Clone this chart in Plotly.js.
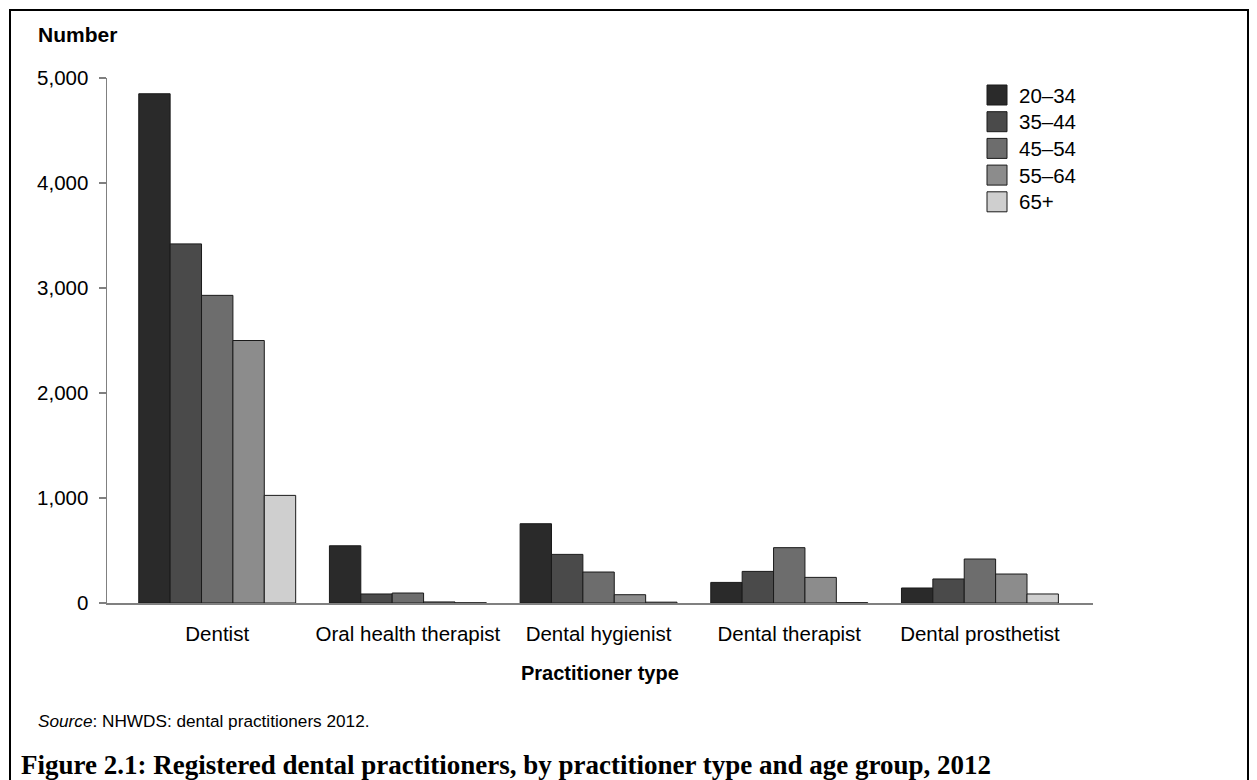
<!DOCTYPE html>
<html>
<head>
<meta charset="utf-8">
<script src="https://cdn.plot.ly/plotly-3.0.1.min.js"></script>
<style>
  html, body { margin: 0; padding: 0; background: #fff; }
  #wrap { position: relative; width: 1257px; height: 780px; overflow: hidden; }
  #chart { position: absolute; left: 0; top: 0; width: 1257px; height: 780px; }
  #frame { position: absolute; left: 9px; top: 9px; width: 1236px; height: 800px; border: 2px solid #000; pointer-events: none; }
</style>
</head>
<body>
<div id="wrap">
  <div id="chart"></div>
  <div id="frame"></div>
</div>
<script>
// ---- data ----
const categories = ["Dentist", "Oral health therapist", "Dental hygienist", "Dental therapist", "Dental prosthetist"];
const ageGroups = ["20–34", "35–44", "45–54", "55–64", "65+"];
const age20_34 = [4850, 545, 755, 196, 143];
const age35_44 = [3420, 86, 463, 301, 229];
const age45_54 = [2930, 95, 295, 527, 419];
const age55_64 = [2500, 10, 79, 244, 276];
const age65plus = [1025, 2, 8, 3, 86];
const seriesValues = [age20_34, age35_44, age45_54, age55_64, age65plus];
const seriesColors = ["#2a2a2a", "#4a4a4a", "#6d6d6d", "#8c8c8c", "#cfcfcf"];
const yTickValues = [0, 1000, 2000, 3000, 4000, 5000];

// ---- geometry ----
const W = 1257, H = 780;
const mL = 107, mR = 164, mT = 78, mB = 177;
const plotW = W - mL - mR, plotH = H - mT - mB;
const px2x = p => (p - mL) / plotW;
const px2y = p => (H - mB - p) / plotH;

const font = "Liberation Sans, Arial, sans-serif";

const traces = ageGroups.map((g, i) => ({
  type: "bar",
  name: g,
  x: categories,
  y: seriesValues[i],
  marker: { color: seriesColors[i], line: { color: "#1a1a1a", width: 1 } },
  showlegend: false,
  hoverinfo: "x+y+name"
}));

// custom legend (large square swatches)
const shapes = [];
const annotations = [];
const legLeft = 987, legTop = 85, sw = 20, rowH = 26.7;
ageGroups.forEach((g, i) => {
  const top = legTop + i * rowH;
  shapes.push({
    type: "rect", xref: "paper", yref: "paper",
    x0: px2x(legLeft), x1: px2x(legLeft + sw),
    y0: px2y(top + sw), y1: px2y(top),
    fillcolor: seriesColors[i], line: { color: "#1a1a1a", width: 1 }
  });
  annotations.push({
    xref: "paper", yref: "paper", x: px2x(legLeft + sw + 10), y: px2y(top + sw / 2),
    xanchor: "left", yanchor: "middle", showarrow: false,
    text: g, font: { family: font, size: 20.5, color: "#000" }
  });
});

annotations.push({
  xref: "paper", yref: "paper", x: px2x(36), y: px2y(35),
  xanchor: "left", yanchor: "middle", showarrow: false,
  text: "<b>Number</b>", font: { family: font, size: 21, color: "#000" }
});
annotations.push({
  xref: "paper", yref: "paper", x: px2x(36), y: px2y(721),
  xanchor: "left", yanchor: "middle", showarrow: false,
  text: "<i>Source</i>: NHWDS: dental practitioners 2012.",
  font: { family: font, size: 17.2, color: "#000" }
});
annotations.push({
  xref: "paper", yref: "paper", x: px2x(19), y: px2y(765),
  xanchor: "left", yanchor: "middle", showarrow: false,
  text: "<b>Figure 2.1: Registered dental practitioners, by practitioner type and age group, 2012</b>",
  font: { family: "Liberation Serif, Times New Roman, serif", size: 27, color: "#000" }
});
annotations.push({
  xref: "paper", yref: "paper", x: 0.5, y: px2y(673),
  xanchor: "center", yanchor: "middle", showarrow: false,
  text: "<b>Practitioner type</b>", font: { family: font, size: 20, color: "#000" }
});

const layout = {
  width: W, height: H,
  margin: { l: mL, r: mR, t: mT, b: mB, pad: 0 },
  paper_bgcolor: "#fff", plot_bgcolor: "#fff",
  barmode: "group", bargap: 0.177, bargroupgap: 0,
  font: { family: font, size: 20, color: "#000" },
  xaxis: {
    type: "category", range: [-0.578, 4.593],
    showline: true, linecolor: "#808080", linewidth: 1.5,
    ticks: "outside", ticklen: 12, tickcolor: "rgba(0,0,0,0)",
    showgrid: false, zeroline: false, fixedrange: true,
    tickfont: { family: font, size: 20.5, color: "#000" }
  },
  yaxis: {
    range: [0, 5000], tickvals: yTickValues, tickformat: ",",
    showline: true, linecolor: "#808080", linewidth: 1.5,
    ticks: "outside", ticklen: 7, tickcolor: "#808080", tickwidth: 1.5,
    ticklabelstandoff: 6,
    showgrid: false, zeroline: false, fixedrange: true,
    tickfont: { family: font, size: 20.5, color: "#000" }
  },
  shapes: shapes,
  annotations: annotations,
  showlegend: false
};

Plotly.newPlot("chart", traces, layout, { displayModeBar: false, staticPlot: true });
</script>
</body>
</html>
